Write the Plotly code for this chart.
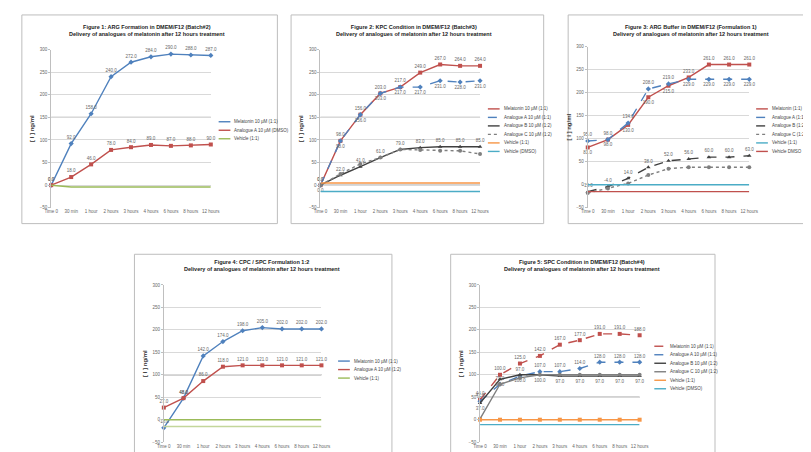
import plotly.graph_objects as go

# ---------------- data ----------------
time_labels = ["Time 0", "30 min", "1 hour", "2 hours", "3 hours", "4 hours", "6 hours", "8 hours", "12 hours"]
y_ticks = [-50, 0, 50, 100, 150, 200, 250, 300]

titles = [
    ("Figure 1: ARG Formation in DMEM/F12 (Batch#2)", "Delivery of analogues of melatonin after 12 hours treatment"),
    ("Figure 2: KPC Condition in DMEM/F12 (Batch#3)", "Delivery of analogues of melatonin after 12 hours treatment"),
    ("Figure 3: ARG Buffer in DMEM/F12 (Formulation 1)", "Delivery of analogues of melatonin after 12 hours treatment"),
    ("Figure 4: CPC / SPC Formulation 1:2", "Delivery of analogues of melatonin after 12 hours treatment"),
    ("Figure 5: SPC Condition in DMEM/F12 (Batch#4)", "Delivery of analogues of melatonin after 12 hours treatment"),
]

p1_names = ["Melatonin 10 µM (1:1)", "Analogue A 10 µM (DMSO)", "Vehicle (1:1)"]
p1_blue = [0, 92, 158, 240, 272, 284, 290, 288, 287]
p1_red = [0, 18, 46, 78, 84, 89, 87, 88, 90]
p1_green = [0, -4, -4, -4, -4, -4, -4, -4, -4]

p2_names = ["Melatonin 10 µM (1:1)", "Analogue A 10 µM (1:1)", "Analogue B 10 µM (1:2)", "Analogue C 10 µM (1:2)", "Vehicle (1:1)", "Vehicle (DMSO)"]
p2_red = [0, 98, 156, 203, 217, 249, 267, 264, 264]
p2_blue = [0, 98, 156, 203, 217, 217, 231, 228, 231]
p2_gray1 = [0, 22, 41, 61, 79, 83, 85, 85, 85]
p2_gray2 = [0, 25, 47, 61, 79, 78, 76, 76, 69]
p2_orange = [5, 5, 5, 5, 5, 5, 5, 5, 5]
p2_teal = [-14, -14, -14, -14, -14, -14, -14, -14, -14]

p3_names = ["Melatonin (1:1)", "Analogue A (1:1)", "Analogue B (1:2)", "Analogue C (1:2)", "Vehicle (1:1)", "Vehicle DMSO"]
p3_red = [81, 98, 130, 190, 215, 233, 261, 261, 261]
p3_blue = [95, 98, 134, 208, 219, 229, 229, 229, 229]
p3_gray1 = [-15, -4, 14, 38, 52, 56, 60, 60, 63]
p3_gray2 = [-18, -8, 3, 21, 35, 38, 38, 38, 38]
p3_teal = [0, 0, 0, 0, 0, 0, 0, 0, 0]
p3_orange = [-15, -15, -15, -15, -15, -15, -15, -15, -15]

p4_names = ["Melatonin 10 µM (1:1)", "Analogue A 10 µM (1:2)", "Vehicle (1:1)", "Vehicle (DMSO)"]
p4_blue = [-18, 48, 142, 174, 198, 205, 202, 202, 202]
p4_red = [27, 48, 86, 118, 121, 121, 121, 121, 121]
p4_green = [0, 0, 0, 0, 0, 0, 0, 0, 0]
p4_lgreen = [-15, -15, -15, -15, -15, -15, -15, -15, -15]

p5_names = ["Melatonin 10 µM (1:1)", "Analogue A 10 µM (1:1)", "Analogue B 10 µM (1:2)", "Analogue C 10 µM (1:2)", "Vehicle (1:1)", "Vehicle (DMSO)"]
p5_red = [44, 100, 125, 142, 167, 177, 191, 191, 188]
p5_blue = [41, 79, 97, 107, 107, 114, 128, 128, 128]
p5_gray1 = [37, 90, 100, 100, 97, 97, 97, 97, 97]
p5_gray2 = [2, 79, 93, 100, 100, 100, 100, 100, 100]
p5_orange = [0, 0, 0, 0, 0, 0, 0, 0, 0]
p5_teal = [-11, -11, -11, -11, -11, -11, -11, -11, -11]

# ---------------- styling ----------------
BLUE = "#4F81BD"
RED = "#C0504D"
GREEN = "#9BBB59"
LGREEN = "#C3D69B"
ORANGE = "#F79646"
TEAL = "#4BACC6"
DGRAY = "#404040"
GRAY = "#7F7F7F"

W, H = 811, 452

def px(x):
    return x / W

def py(y):
    return 1 - y / H

def auto_pos(vals, other):
    # label above when this series is the higher one at that point, below otherwise
    return ["top center" if v >= o else "bottom center" for v, o in zip(vals, other)]

# series tuple: name, values, color, dash, marker symbol, label position (None = no labels), in legend
panels = [
    dict(dom_x=(37, 200), dom_y=(40, 200), frame=(7, 5, 268, 216), title_xy=(135, 12), leg=(208, 113), dark=[150],
         series=[(p1_names[0], p1_blue, BLUE, "solid", "diamond", "top center", True),
                 (p1_names[1], p1_red, RED, "solid", "square", "top center", True),
                 (p1_names[2], p1_green, GREEN, "solid", None, None, True)]),
    dict(dom_x=(312, 475), dom_y=(40, 200), frame=(282, 5, 540, 216), title_xy=(408, 12), leg=(483, 100), dark=[150, 0],
         series=[(p2_names[0], p2_red, RED, "solid", "square", "top center", True),
                 (p2_names[1], p2_blue, BLUE, "dash", "diamond", "bottom center", True),
                 (p2_names[2], p2_gray1, DGRAY, "solid", "triangle-up", "top center", True),
                 (p2_names[3], p2_gray2, GRAY, "dot", "circle", None, True),
                 (p2_names[4], p2_orange, ORANGE, "solid", None, None, True),
                 (p2_names[5], p2_teal, TEAL, "solid", None, None, True)]),
    dict(dom_x=(585, 750), dom_y=(37, 200), frame=(565, 5, 810, 216), title_xy=(690, 12), leg=(757, 100), dark=[],
         series=[(p3_names[0], p3_red, RED, "solid", "square", auto_pos(p3_red, p3_blue), True),
                 (p3_names[1], p3_blue, BLUE, "dash", "diamond", auto_pos(p3_blue, [v + 0.5 for v in p3_red]), True),
                 (p3_names[2], p3_gray1, DGRAY, "dash", "triangle-up", "top center", True),
                 (p3_names[3], p3_gray2, GRAY, "dot", "circle", None, True),
                 (p3_names[4], p3_teal, TEAL, "solid", None, None, True),
                 (p3_names[5], p3_orange, RED, "solid", None, None, True)]),
    dict(dom_x=(152, 313), dom_y=(278, 437), frame=(122, 247, 385, 451), title_xy=(252, 250), leg=(330, 355), dark=[100],
         series=[(p4_names[0], p4_blue, BLUE, "solid", "diamond", "top center", True),
                 (p4_names[1], p4_red, RED, "solid", "square", "top center", True),
                 (p4_names[2], p4_green, GREEN, "solid", None, None, True),
                 (p4_names[3], p4_lgreen, LGREEN, "solid", None, None, False)]),
    dict(dom_x=(475, 638), dom_y=(278, 437), frame=(445, 247, 715, 451), title_xy=(579, 250), leg=(653, 340), dark=[50],
         series=[(p5_names[0], p5_red, RED, "dash", "square", "top center", True),
                 (p5_names[1], p5_blue, BLUE, "dash", "diamond", "top center", True),
                 (p5_names[2], p5_gray1, DGRAY, "solid", "triangle-up", "bottom center", True),
                 (p5_names[3], p5_gray2, GRAY, "solid", "circle", None, True),
                 (p5_names[4], p5_orange, ORANGE, "solid", "square", None, True),
                 (p5_names[5], p5_teal, TEAL, "solid", None, None, True)]),
]

fig = go.Figure()
shapes = []
annotations = []
layout_extra = {}
ROW = 8.6

for i, p in enumerate(panels):
    n = i + 1
    xa = "x" if n == 1 else f"x{n}"
    ya = "y" if n == 1 else f"y{n}"
    lx, ly = p["leg"]
    row = 0
    for (name, vals, color, dash, sym, labpos, inleg) in p["series"]:
        mode = "lines+markers" if sym else "lines"
        if labpos:
            mode += "+text"
        fig.add_trace(go.Scatter(
            x=list(range(len(time_labels))), y=vals, name=name, mode=mode,
            xaxis=xa, yaxis=ya, showlegend=False,
            line=dict(color=color, width=1.4, dash=dash),
            marker=dict(symbol=sym or "circle", size=4, color=color),
            text=[f"{v:.1f}" for v in vals] if labpos else None,
            textposition=labpos or "top center", textfont=dict(size=4.5, color="#666"),
            cliponaxis=False,
        ))
        if inleg:
            yy = ly + row * ROW
            shapes.append(dict(type="line", xref="paper", yref="paper", x0=px(lx), x1=px(lx + 12),
                               y0=py(yy), y1=py(yy), line=dict(color=color, width=1.4, dash=dash)))
            annotations.append(dict(xref="paper", yref="paper", x=px(lx + 14), y=py(yy), xanchor="left",
                                    yanchor="middle", text=name, showarrow=False,
                                    font=dict(size=4.5, color="#444")))
            row += 1
    x0, x1 = p["dom_x"]
    y0, y1 = p["dom_y"]
    layout_extra["xaxis" if n == 1 else f"xaxis{n}"] = dict(
        domain=[px(x0), px(x1)], anchor=ya, range=[0, 8],
        tickmode="array", tickvals=list(range(len(time_labels))), ticktext=time_labels,
        tickfont=dict(size=4.5, color="#666"), tickangle=0, showgrid=False, zeroline=False,
        showline=False, ticks="", fixedrange=True,
    )
    layout_extra["yaxis" if n == 1 else f"yaxis{n}"] = dict(
        domain=[py(y1), py(y0)], anchor=xa, range=[-50, 300],
        tickmode="array", tickvals=y_ticks, tickfont=dict(size=4.5, color="#666"),
        showgrid=True, gridcolor="#D9D9D9", gridwidth=1, zeroline=False,
        showline=True, linecolor="#BFBFBF", linewidth=1, ticks="outside", ticklen=2, tickcolor="#BFBFBF",
        title=dict(text="<b>[ I ] ng/ml</b>", font=dict(size=6, color="#333"), standoff=4),
    )
    fx0, fy0, fx1, fy1 = p["frame"]
    shapes.append(dict(type="rect", xref="paper", yref="paper", x0=px(fx0), x1=px(fx1), y0=py(fy1), y1=py(fy0),
                       line=dict(color="#BDBDBD", width=1), fillcolor="rgba(0,0,0,0)", layer="below"))
    for d in p["dark"]:
        shapes.append(dict(type="line", xref=f"{xa} domain", yref=ya, x0=0, x1=1, y0=d, y1=d,
                           line=dict(color="#A6A6A6", width=1.3), layer="below"))
    tx, ty = p["title_xy"]
    t1, t2 = titles[i]
    annotations.append(dict(xref="paper", yref="paper", x=px(tx), y=py(ty), xanchor="center", yanchor="top",
                            text=f"<b>{t1}</b><br><b>{t2}</b>", showarrow=False,
                            font=dict(size=5.5, color="#222")))

fig.update_layout(
    width=W, height=H, margin=dict(l=0, r=0, t=0, b=0),
    paper_bgcolor="white", plot_bgcolor="white",
    font=dict(family="Liberation Sans"),
    shapes=shapes, annotations=annotations, showlegend=False,
    **layout_extra,
)
fig.write_html("out.html")
